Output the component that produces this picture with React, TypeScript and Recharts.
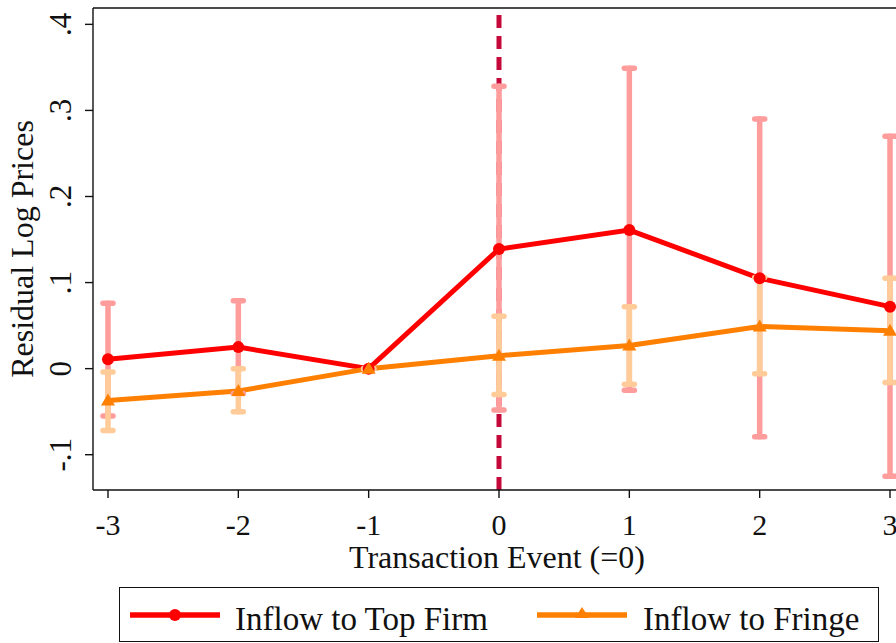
import React from "react";
import { LineChart, Line, XAxis, YAxis, ErrorBar, ReferenceLine } from "recharts";

// event time relative to the transaction
const periods = [-3, -2, -1, 0, 1, 2, 3];

// inflow to top firm: point estimate and 95% CI
const topFirm = [0.011, 0.025, 0, 0.139, 0.161, 0.105, 0.072];
const topLow = [-0.055, -0.029, 0, -0.048, -0.025, -0.079, -0.125];
const topHigh = [0.076, 0.079, 0, 0.328, 0.349, 0.29, 0.27];

// inflow to fringe
const fringe = [-0.037, -0.026, 0, 0.015, 0.027, 0.049, 0.044];
const fringeLow = [-0.072, -0.05, 0, -0.03, -0.018, -0.006, -0.016];
const fringeHigh = [-0.004, 0.0, 0, 0.061, 0.072, 0.106, 0.105];

const yTicks = [-0.1, 0, 0.1, 0.2, 0.3, 0.4];
const X_MIN = -3.115, X_MAX = 3.115;
const Y_MIN = -0.141, Y_MAX = 0.419;

const RED = "#ff0000", PINK = "#ff9c9c", ORANGE = "#ff8000", PEACH = "#ffcc99";
const FONT = "'Liberation Serif', 'DejaVu Serif', serif";

const data = periods.map((t, i) => ({
  t,
  top: topFirm[i],
  topErr: [topFirm[i] - topLow[i], topHigh[i] - topFirm[i]],
  fringe: fringe[i],
  fringeErr: [fringe[i] - fringeLow[i], fringeHigh[i] - fringe[i]],
}));

const fmtY = (v: number) => {
  if (v === 0) return "0";
  const s = v.toFixed(1);
  return s.replace("0.", ".");
};

const YTick = ({ x, y, payload }: any) => {
  const bx = x - 12;
  return (
    <text x={bx} y={y} transform={`rotate(-90, ${bx}, ${y})`} textAnchor="middle"
      fontFamily={FONT} fontSize={31} fill="#111">{fmtY(payload.value)}</text>
  );
};

const XTick = ({ x, y, payload }: any) => (
  <text x={x} y={y + 35} textAnchor="middle" fontFamily={FONT} fontSize={30} fill="#111">
    {payload.value}
  </text>
);

const Triangle = ({ cx, cy, key }: any) => (
  <path key={key} d={`M${cx},${cy - 7} L${cx + 7},${cy + 5} L${cx - 7},${cy + 5} Z`} fill={ORANGE} />
);

export default function App() {
  return (
    <div style={{ position: "fixed", left: 0, top: 0, width: 896, height: 643, overflow: "hidden", background: "#fff" }}>
      <LineChart width={910} height={643} data={data} margin={{ top: 8, right: 5, bottom: 73, left: 0 }}>
        <XAxis dataKey="t" type="number" domain={[X_MIN, X_MAX]} ticks={periods} allowDataOverflow
          tick={<XTick />} tickSize={8} height={80}
          axisLine={{ stroke: "#111", strokeWidth: 1.4 }} tickLine={{ stroke: "#111", strokeWidth: 1.4 }}
          label={() => (
            <text x={497} y={568} textAnchor="middle" fontFamily={FONT} fontSize={32} fill="#111">
              Transaction Event (=0)
            </text>
          )} />
        <YAxis type="number" domain={[Y_MIN, Y_MAX]} ticks={yTicks} allowDataOverflow width={93}
          tick={<YTick />} tickSize={8}
          axisLine={{ stroke: "#111", strokeWidth: 1.4 }} tickLine={{ stroke: "#111", strokeWidth: 1.4 }}
          label={() => (
            <text x={33} y={249} transform="rotate(-90, 33, 249)" textAnchor="middle"
              fontFamily={FONT} fontSize={32} fill="#111">Residual Log Prices</text>
          )} />
        <ReferenceLine y={Y_MAX} stroke="#111" strokeWidth={1.4} />
        <ReferenceLine x={0} stroke="#c4083a" strokeWidth={5} strokeDasharray="13 8" />
        <Line dataKey="top" stroke={RED} strokeWidth={5} isAnimationActive={false}
          dot={{ r: 6, fill: RED, stroke: RED, strokeWidth: 0 }} activeDot={false} />
        <Line dataKey="fringe" stroke={ORANGE} strokeWidth={5} isAnimationActive={false}
          dot={Triangle} activeDot={false} />
        <Line dataKey="top" stroke="none" dot={false} activeDot={false} isAnimationActive={false}>
          <ErrorBar dataKey="topErr" stroke={PINK} strokeWidth={5.5} width={5} strokeLinecap="round" isAnimationActive={false} />
        </Line>
        <Line dataKey="fringe" stroke="none" dot={false} activeDot={false} isAnimationActive={false}>
          <ErrorBar dataKey="fringeErr" stroke={PEACH} strokeWidth={5.5} width={5} strokeLinecap="round" isAnimationActive={false} />
        </Line>
      </LineChart>
      <div style={{ position: "absolute", left: 119, top: 587, width: 760, height: 55, border: "1.4px solid #111", boxSizing: "border-box" }}>
        <svg width={760} height={55} style={{ position: "absolute", left: -1, top: -1 }}>
          <line x1={11} y1={28} x2={101} y2={28} stroke={RED} strokeWidth={5.5} />
          <circle cx={56} cy={28} r={6} fill={RED} />
          <text x={116} y={43} fontFamily={FONT} fontSize={33} fill="#111">Inflow to Top Firm</text>
          <line x1={418} y1={28} x2={508} y2={28} stroke={ORANGE} strokeWidth={5.5} />
          <path d="M463,20 L470,31 L456,31 Z" fill={ORANGE} />
          <text x={524} y={43} fontFamily={FONT} fontSize={33} fill="#111">Inflow to Fringe</text>
        </svg>
      </div>
    </div>
  );
}
